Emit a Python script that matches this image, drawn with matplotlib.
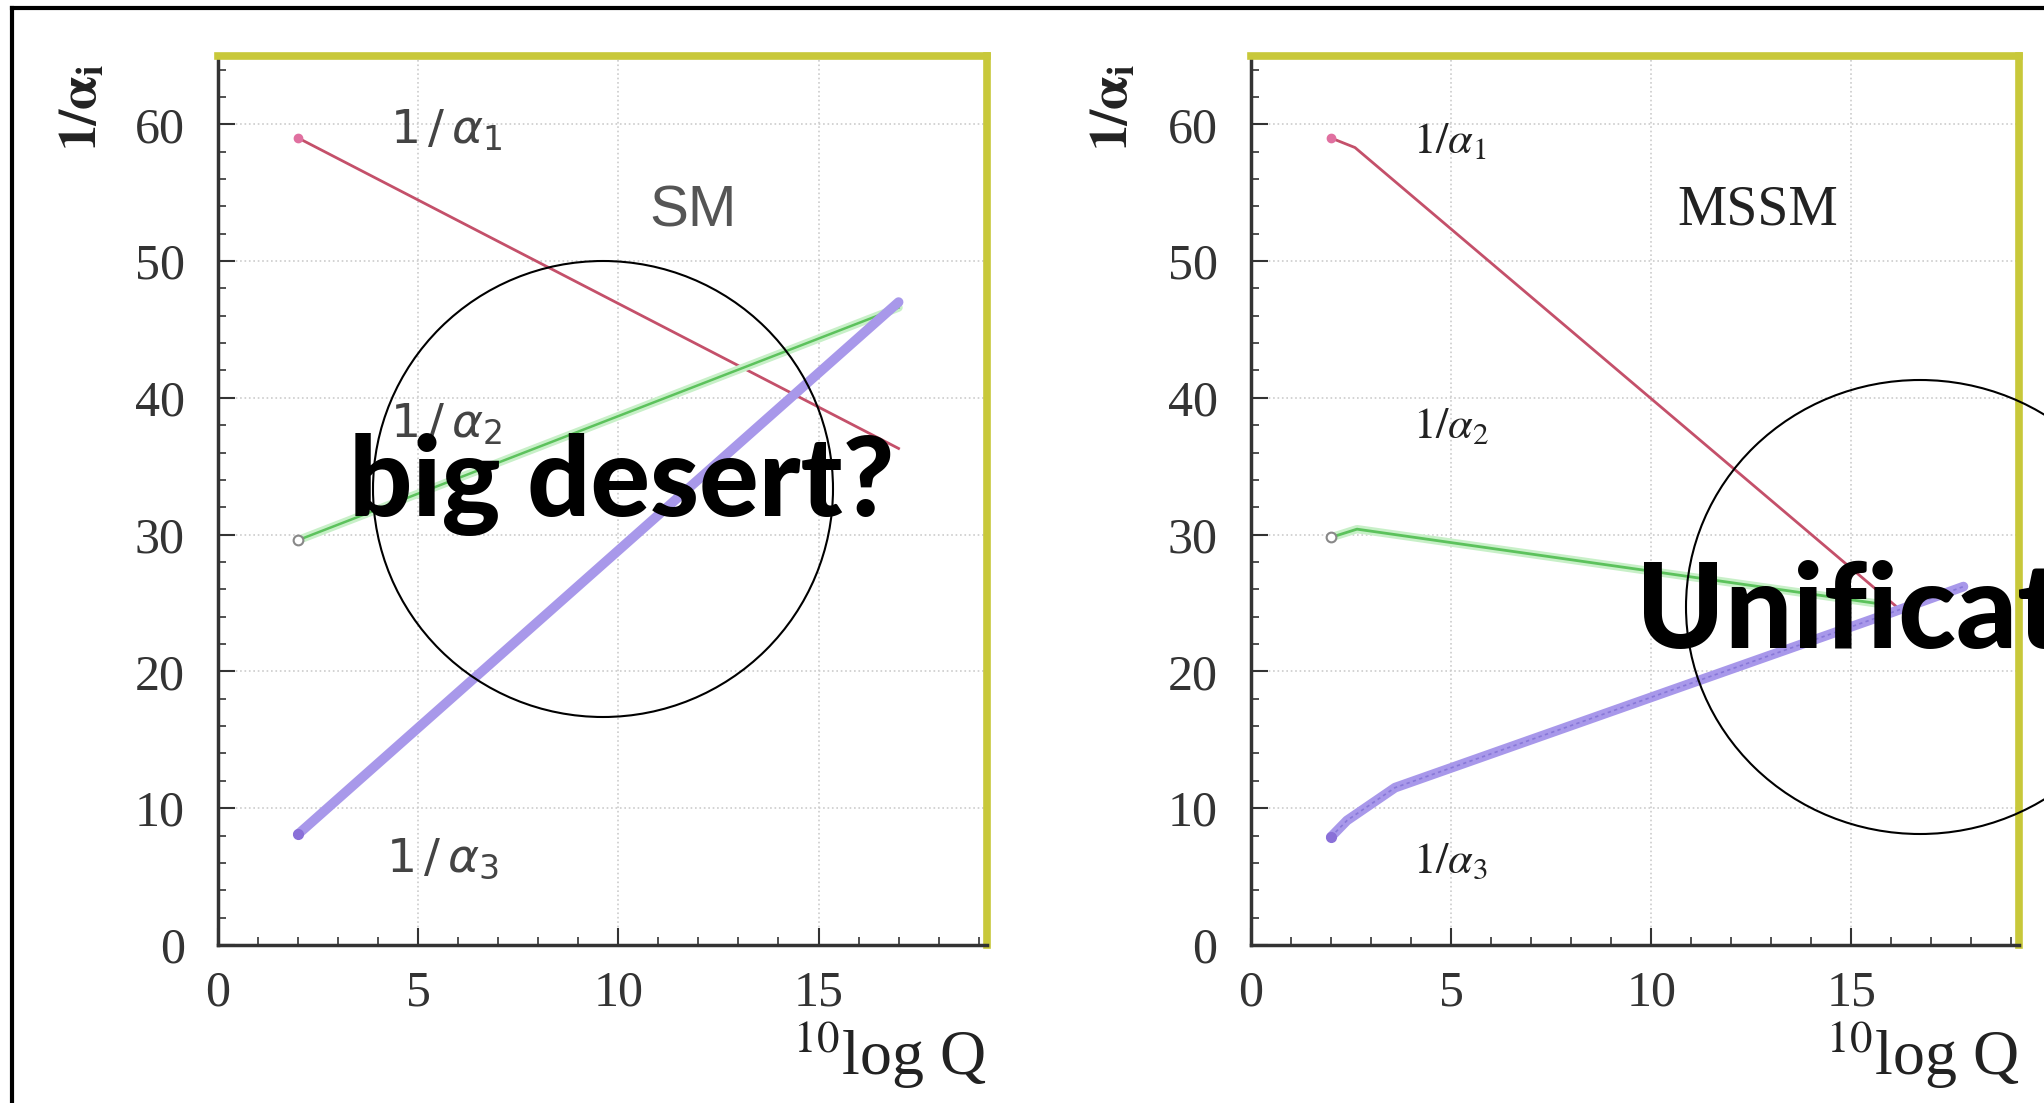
import numpy as np
import matplotlib.pyplot as plt
from matplotlib.patches import Ellipse
from matplotlib.lines import Line2D
from matplotlib.ticker import MultipleLocator

# running couplings (x = 10log Q)
q_sm = [2.0, 17.0]
sm_inv_a1 = [59.0, 36.3]
sm_inv_a2 = [29.6, 46.6]
sm_inv_a3 = [8.1, 47.0]

q_mssm_1 = [2.0, 2.6, 16.1]
mssm_inv_a1 = [59.0, 58.3, 24.8]
q_mssm_2 = [2.0, 2.65, 15.8]
mssm_inv_a2 = [29.8, 30.4, 24.9]
q_mssm_3 = [2.0, 2.4, 2.9, 3.6, 16.0, 17.8]
mssm_inv_a3 = [7.9, 9.1, 10.1, 11.5, 24.3, 26.2]

x_ticks = [0, 5, 10, 15]
y_ticks = [0, 10, 20, 30, 40, 50, 60]

W, H = 2044, 1103
red = '#c4506a'
green = '#5cc25c'
purple = '#a898ea'
yellow = '#c8c83a'

fig = plt.figure(figsize=(W / 100, H / 100), dpi=100)
fig.patch.set_facecolor('white')

def setup(ax):
    ax.set_xlim(0, 19.2)
    ax.set_ylim(0, 65)
    ax.set_xticks(x_ticks)
    ax.set_yticks(y_ticks)
    ax.xaxis.set_minor_locator(MultipleLocator(1))
    ax.yaxis.set_minor_locator(MultipleLocator(2))
    ax.tick_params(which='both', direction='in', top=False, right=False, color='#333333')
    ax.tick_params(which='major', length=12, width=1.5)
    ax.tick_params(which='minor', length=6, width=1.2)
    ax.tick_params(axis='y', pad=24)
    ax.tick_params(axis='x', pad=18)
    for lab in ax.get_xticklabels() + ax.get_yticklabels():
        lab.set_fontfamily('Liberation Serif')
        lab.set_fontsize(36)
        lab.set_color('#333333')
    ax.grid(True, which='major', linestyle=':', color='#cccccc', linewidth=1.2)
    for s in ['left', 'bottom']:
        ax.spines[s].set_color('#333333')
        ax.spines[s].set_linewidth(2.5)
    for s in ['top', 'right']:
        ax.spines[s].set_color(yellow)
        ax.spines[s].set_linewidth(5.5)
    ax.text(1.0, -0.146, r'$^{10}$log Q', transform=ax.transAxes, ha='right', va='baseline',
            fontsize=46, family='Liberation Serif', math_fontfamily='stix', color='#222222')

ax1 = fig.add_axes([0.1067, 0.1433, 0.376, 0.806])
ax2 = fig.add_axes([0.612, 0.1433, 0.376, 0.806])
setup(ax1)
setup(ax2)

# SM panel
ax1.plot(q_sm, sm_inv_a1, color=red, lw=2)
ax1.plot(q_sm, sm_inv_a2, color='#c8f0c8', lw=6, solid_capstyle='round')
ax1.plot(q_sm, sm_inv_a2, color=green, lw=1.8)
ax1.plot(q_sm, sm_inv_a3, color=purple, lw=7, solid_capstyle='round')
ax1.plot(q_sm[0], sm_inv_a1[0], 'o', ms=6, color='#e070a0')
ax1.plot(q_sm[0], sm_inv_a2[0], 'o', ms=7, mfc='white', mec='#888888', mew=1.5)
ax1.plot(q_sm[0], sm_inv_a3[0], 'o', ms=7, color='#8a70d8')

sans_lab = dict(fontsize=34, color='#444444', math_fontfamily='dejavusans', va='center', ha='left')
ax1.text(4.3, 59.5, r'$1\,/\,\alpha_1$', **sans_lab)
ax1.text(4.3, 38.0, r'$1\,/\,\alpha_2$', **sans_lab)
ax1.text(4.2, 6.3, r'$1\,/\,\alpha_3$', **sans_lab)
ax1.text(11.86, 53.6, 'SM', fontsize=42, color='#555555', family='Liberation Sans',
         ha='center', va='center')

# MSSM panel
ax2.plot(q_mssm_1, mssm_inv_a1, color=red, lw=2)
ax2.plot(q_mssm_2, mssm_inv_a2, color='#c8f0c8', lw=6, solid_capstyle='round')
ax2.plot(q_mssm_2, mssm_inv_a2, color=green, lw=2)
ax2.plot(q_mssm_3, mssm_inv_a3, color=purple, lw=7, solid_capstyle='round')
ax2.plot(q_mssm_3, mssm_inv_a3, color='#8878d8', lw=1.2, ls=(0, (2, 2)))
ax2.plot(q_mssm_1[0], mssm_inv_a1[0], 'o', ms=6, color='#e070a0')
ax2.plot(q_mssm_2[0], mssm_inv_a2[0], 'o', ms=7, mfc='white', mec='#888888', mew=1.5)
ax2.plot(q_mssm_3[0], mssm_inv_a3[0], 'o', ms=7, color='#8a70d8')

serif_lab = dict(fontsize=32, color='#222222', math_fontfamily='stix', va='center', ha='left')
ax2.text(4.05, 58.8, r'$1/\alpha_1$', **serif_lab)
ax2.text(4.05, 38.0, r'$1/\alpha_2$', **serif_lab)
ax2.text(4.05, 6.2, r'$1/\alpha_3$', **serif_lab)
ax2.text(12.66, 53.7, 'MSSM', fontsize=40, color='#222222', family='Liberation Serif',
         ha='center', va='center')

# y axis titles
for xpix in [82, 1113]:
    fig.text(xpix / W, 1 - 107 / H, r'$\mathbf{1/\alpha_i}$', rotation=90, fontsize=38,
             math_fontfamily='stix', ha='center', va='center', color='#222222')

# slide frame
fig.add_artist(Line2D([12 / W, 12 / W], [0, 1 - 8 / H], color='black', lw=3))
fig.add_artist(Line2D([12 / W, 1], [1 - 8 / H, 1 - 8 / H], color='black', lw=3))

# annotation circles and captions
fig.add_artist(Ellipse((603 / W, 1 - 489 / H), 2 * 230 / W, 2 * 228 / H,
                       transform=fig.transFigure, fill=False, color='black', lw=1.5))
fig.add_artist(Ellipse((1920 / W, 1 - 607 / H), 2 * 234 / W, 2 * 227 / H,
                       transform=fig.transFigure, fill=False, color='black', lw=1.5))
fig.text(622 / W, 1 - 485 / H, 'big desert?', fontsize=80, weight='black', family='Lato',
         ha='center', va='center', color='black')
fig.text(1636 / W, 1 - 648 / H, 'Unification', fontsize=86, weight='black', family='Lato',
         ha='left', va='baseline', color='black')

fig.savefig('out.png', dpi=100)
